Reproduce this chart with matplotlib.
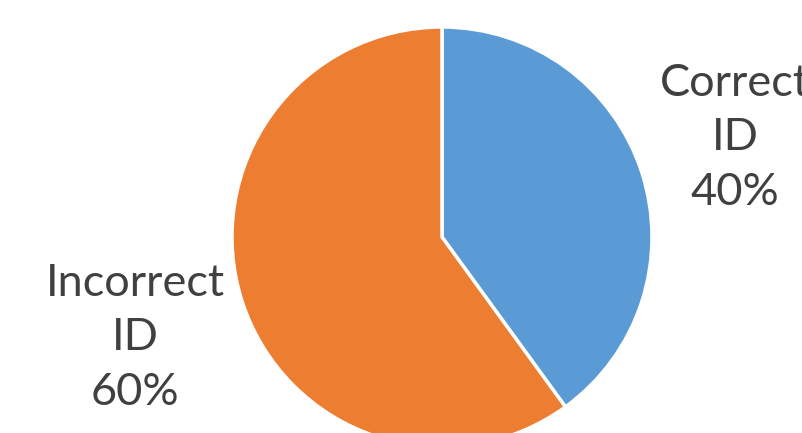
import matplotlib
matplotlib.use("Agg")
import matplotlib.pyplot as plt

labels = ["Correct\nID", "Incorrect\nID"]
values = [40, 60]
colors = ["#5B9BD5", "#ED7D31"]

W, H = 803, 433
fig = plt.figure(figsize=(W / 100, H / 100), dpi=100)
cx, cy, r = 442, 237, 210
ax = fig.add_axes([(cx - r) / W, (H - cy - r) / H, 2 * r / W, 2 * r / H])
ax.pie(values, colors=colors, startangle=90, counterclock=False, radius=1,
       wedgeprops=dict(edgecolor="white", linewidth=2.5))
ax.set_xlim(-1, 1)
ax.set_ylim(-1, 1)
ax.set_aspect("equal")
ax.axis("off")

pos = [(735, 138), (135, 338)]
for (x, y), lab, v in zip(pos, labels, values):
    fig.text(x / W, 1 - y / H, f"{lab}\n{v}%", ha="center", va="center",
             multialignment="center", fontsize=32.5, color="#404040",
             family="Lato", linespacing=1.42)

fig.savefig("out.png", dpi=100)
